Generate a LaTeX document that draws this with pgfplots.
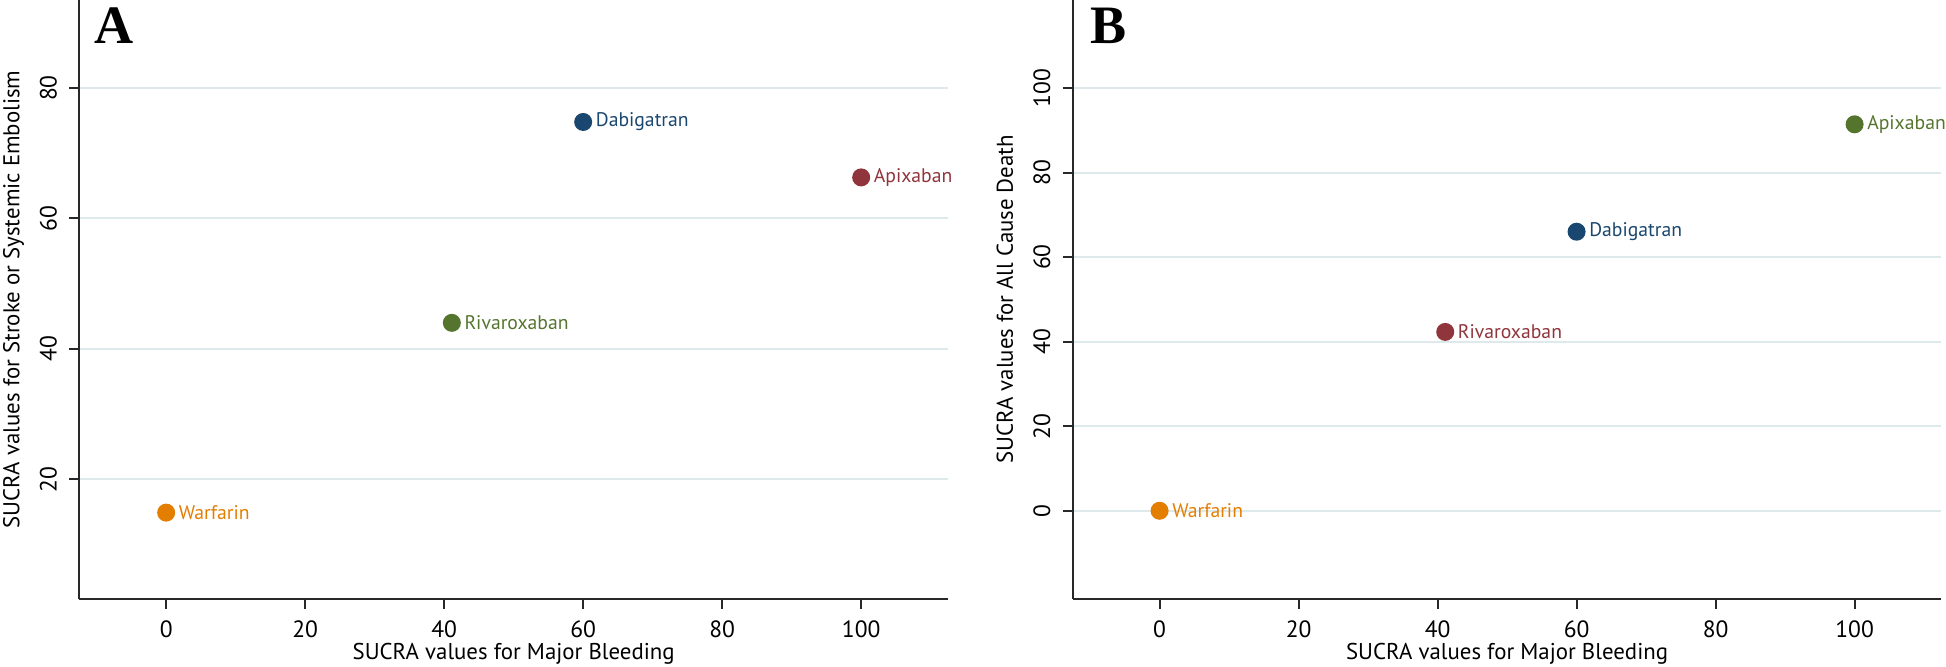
\documentclass[border=0pt]{standalone}
\usepackage{fontspec}
\setmainfont{PT Sans}
\newfontfamily\panelfont{Liberation Serif}
\usepackage{pgfplots}
\pgfplotsset{compat=1.18}

\definecolor{stnavy}{RGB}{26,71,111}
\definecolor{stmaroon}{RGB}{144,53,59}
\definecolor{stgreen}{RGB}{85,117,47}
\definecolor{storange}{RGB}{227,126,0}
\definecolor{gridc}{RGB}{222,233,235}
\definecolor{axc}{RGB}{40,40,40}

\pgfplotsset{
  sucra/.style={
    scale only axis, width=86.875mm, height=59.87mm,
    xmin=-12.5, xmax=112.5,
    axis x line*=bottom, axis y line*=left,
    axis line style={axc, line width=0.22mm, -},
    tick align=outside, major tick length=1mm,
    tick style={axc, line width=0.2mm},
    xtick={0,20,...,100},
    ymajorgrids, grid style={gridc, line width=0.2mm},
    /pgf/number format/assume math mode=true,
    ticklabel style={font=\fontsize{6.7}{8}\selectfont, text=black},
    yticklabel style={rotate=90, anchor=south},
    xticklabel style={anchor=north},
    xlabel={SUCRA values for Major Bleeding},
    every axis x label/.style={at={(axis description cs:0.5,-0.101)}, anchor=base,
      font=\fontsize{6.5}{8}\selectfont, text=black},
    every axis y label/.style={at={(axis description cs:-0.069,0.5)}, rotate=90, anchor=base,
      font=\fontsize{6.5}{8}\selectfont, text=black},
    clip=false,
  },
  drug/.style={only marks, mark=*, mark size=2.36pt, color=#1,
    nodes near coords style={anchor=west, inner sep=0pt, xshift=1.2mm,
      font=\fontsize{5.6}{7}\selectfont, text=#1}},
}

\begin{document}
\begin{tikzpicture}
\path[use as bounding box] (0,0) rectangle (194.6mm,66.6mm);

% Panel A
\begin{axis}[sucra, at={(7.93mm,6.73mm)}, anchor=south west,
  ymin=1.7, ymax=93.5, ytick={20,40,60,80},
  ylabel={SUCRA values for Stroke or Systemic Embolism}]
\addplot[drug=stnavy, nodes near coords={Dabigatran}] coordinates {(60,74.8)};
\addplot[drug=stmaroon, nodes near coords={Apixaban}] coordinates {(100,66.3)};
\addplot[drug=stgreen, nodes near coords={Rivaroxaban}] coordinates {(41.1,44.0)};
\addplot[drug=storange, nodes near coords={Warfarin}] coordinates {(0,14.9)};
\end{axis}

% Panel B
\begin{axis}[sucra, at={(107.27mm,6.73mm)}, anchor=south west,
  ymin=-20.8, ymax=120.8, ytick={0,20,...,100},
  ylabel={SUCRA values for All Cause Death}]
\addplot[drug=stgreen, nodes near coords={Apixaban}] coordinates {(100,91.4)};
\addplot[drug=stnavy, nodes near coords={Dabigatran}] coordinates {(60,66.0)};
\addplot[drug=stmaroon, nodes near coords={Rivaroxaban}] coordinates {(41.1,42.3)};
\addplot[drug=storange, nodes near coords={Warfarin}] coordinates {(0,0)};
\end{axis}

\node[anchor=north west, inner sep=0pt, font=\panelfont\bfseries\fontsize{15.4}{16}\selectfont] at (9.4mm,65.9mm) {A};
\node[anchor=north west, inner sep=0pt, font=\panelfont\bfseries\fontsize{15.4}{16}\selectfont] at (109.0mm,65.9mm) {B};
\end{tikzpicture}
\end{document}
